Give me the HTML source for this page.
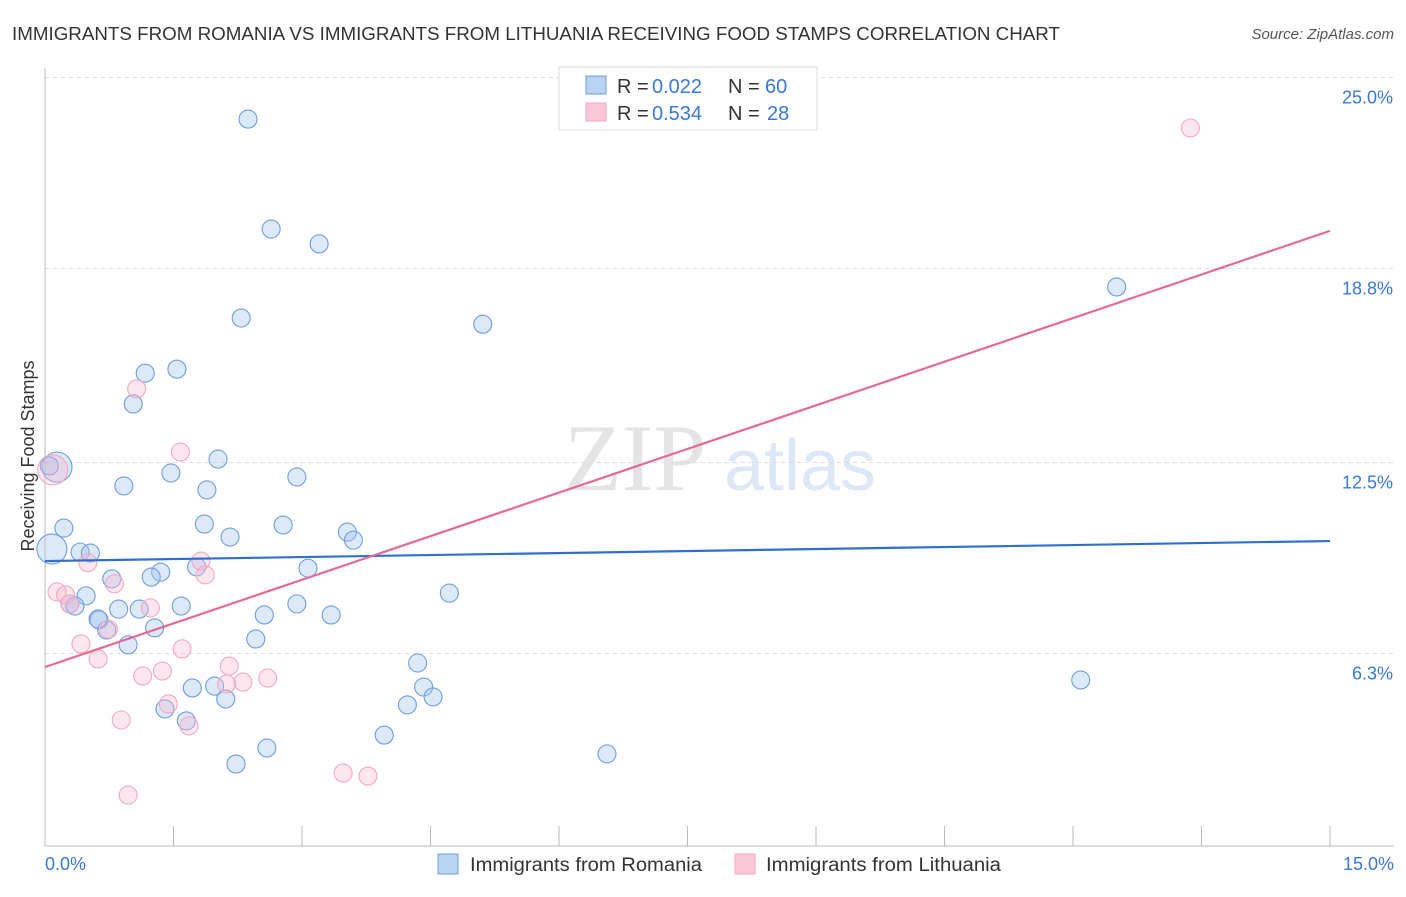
<!DOCTYPE html>
<html><head><meta charset="utf-8"><style>
body{margin:0;background:#fff;font-family:"Liberation Sans",sans-serif;}
</style></head><body>
<svg width="1406" height="892" viewBox="0 0 1406 892" xmlns="http://www.w3.org/2000/svg">
<text x="12" y="40" font-size="18.5" fill="#333" textLength="1048" lengthAdjust="spacingAndGlyphs">IMMIGRANTS FROM ROMANIA VS IMMIGRANTS FROM LITHUANIA RECEIVING FOOD STAMPS CORRELATION CHART</text>
<text x="1394" y="39" font-size="15" fill="#555" font-style="italic" text-anchor="end">Source: ZipAtlas.com</text>
<g><text x="635" y="490" font-size="95" font-family="Liberation Serif,serif" fill="#e4e4e4" text-anchor="middle">ZIP</text><text x="800" y="490" font-size="72" fill="#dce8f6" text-anchor="middle">atlas</text></g>
<g id="grid"></g><g id="axes"></g><g id="marks"></g>
<text transform="translate(34,456) rotate(-90)" font-size="18" fill="#333" text-anchor="middle">Receiving Food Stamps</text>
<g>
<rect x="559" y="67" width="258" height="63" fill="#fff" stroke="#ddd"/>
<rect x="586" y="76" width="20" height="18" fill="#b8d2f4" stroke="#6d9ee0"/>
<rect x="586" y="103" width="20" height="18" fill="#fcc8d8" stroke="#f0a6bd"/>
<text x="617" y="93" font-size="20" fill="#333">R =</text>
<text x="652" y="93" font-size="20" fill="#3a78d6">0.022</text>
<text x="728" y="93" font-size="20" fill="#333">N =</text>
<text x="765" y="93" font-size="20" fill="#3a78d6">60</text>
<text x="617" y="120" font-size="20" fill="#333">R =</text>
<text x="652" y="120" font-size="20" fill="#3a78d6">0.534</text>
<text x="728" y="120" font-size="20" fill="#333">N =</text>
<text x="767" y="120" font-size="20" fill="#3a78d6">28</text>
</g>
<g>
<rect x="438" y="854" width="20" height="20" fill="#b8d2f4" stroke="#6d9ee0"/>
<text x="470" y="871" font-size="19" fill="#333" textLength="232" lengthAdjust="spacingAndGlyphs">Immigrants from Romania</text>
<rect x="735" y="854" width="20" height="20" fill="#fcc8d8" stroke="#f0a6bd"/>
<text x="766" y="871" font-size="19" fill="#333" textLength="235" lengthAdjust="spacingAndGlyphs">Immigrants from Lithuania</text>
</g>
</svg>
<script>
const yTicks=[25,18.8,12.5,6.3];
const yTickLabels=["25.0%","18.8%","12.5%","6.3%"];
const xTickLabels=["0.0%","15.0%"];
const romaniaX=[2.37,2.64,3.20,2.29,5.11,12.51,1.17,1.54,1.03,2.02,0.14,1.47,2.94,0.92,1.89,0.22,1.86,2.78,2.16,3.53,3.60,0.08,0.41,0.53,3.07,1.35,1.24,1.77,0.78,0.48,0.29,0.35,1.10,0.86,1.59,2.94,4.72,0.63,2.56,3.34,0.72,1.28,0.97,2.46,4.35,12.09,1.98,1.72,4.42,4.53,2.11,1.40,4.23,1.65,3.96,2.59,2.23,6.56,0.05,0.62];
const romaniaY=[23.65,20.08,19.60,17.19,16.99,18.20,15.40,15.53,14.40,12.61,12.35,12.16,12.03,11.74,11.61,10.37,10.50,10.47,10.08,10.24,9.98,9.69,9.59,9.56,9.07,8.94,8.78,9.11,8.72,8.17,7.91,7.84,7.74,7.74,7.84,7.91,8.26,7.39,7.55,7.55,7.06,7.13,6.58,6.77,5.99,5.44,5.24,5.18,5.21,4.89,4.82,4.50,4.63,4.11,3.65,3.23,2.71,3.04,12.39,7.42];
const romaniaBig=[10,21];
const lithX=[13.37,1.07,1.58,0.09,0.50,1.82,1.87,0.81,0.14,0.24,1.23,0.74,0.42,1.60,0.62,2.15,1.37,1.14,2.60,2.31,2.12,1.44,1.68,0.89,3.48,3.77,0.97,0.29];
const lithY=[23.36,14.89,12.84,12.26,9.25,9.30,8.85,8.56,8.30,8.20,7.78,7.09,6.61,6.45,6.12,5.89,5.73,5.57,5.50,5.37,5.31,4.66,3.95,4.14,2.42,2.32,1.70,7.91];
const lithBig=[3];
const romaniaTrend=[9.30,9.95];
const lithTrend=[5.86,20.02];
const trendX=[0,15];

const X0=45,X1=1330,Y0=847.5,Y25=77.5;
const sx=v=>X0+(v/15)*(X1-X0);
const sy=v=>Y0-(v/25)*(Y0-Y25);
const NS="http://www.w3.org/2000/svg";
function mk(tag,attrs,parent){const e=document.createElementNS(NS,tag);for(const k in attrs)e.setAttribute(k,attrs[k]);parent.appendChild(e);return e;}
const grid=document.getElementById('grid'),axes=document.getElementById('axes'),marks=document.getElementById('marks');
yTicks.forEach((t,i)=>{
 const y=sy(t);
 const l=mk('line',{x1:45,x2:1394,y1:y,y2:y,stroke:'#ddd','stroke-dasharray':'4,4'},grid);
 
 
 const tx=mk('text',{x:1393,y:y+26,'font-size':18,fill:'#3a78d6','text-anchor':'end'},axes);
 tx.textContent=yTickLabels[i];
 
 
});
const ya=mk('line',{x1:45,x2:45,y1:68,y2:846,stroke:'#bbb'},axes);


const xa=mk('line',{x1:45,x2:1394,y1:846,y2:846,stroke:'#bbb'},axes);


for(let i=0;i<=10;i++){
 const x=sx(i*1.5);
 const t=mk('line',{x1:x,x2:x,y1:826,y2:846,stroke:'#bbb'},axes);
 
 
}
const xl0=mk('text',{x:45,y:870,'font-size':18,fill:'#3a78d6'},axes);xl0.textContent=xTickLabels[0];


const xl1=mk('text',{x:1394,y:870,'font-size':18,fill:'#3a78d6','text-anchor':'end'},axes);xl1.textContent=xTickLabels[1];



function pts(xs,ys,big,fill,stroke,name){
 xs.forEach((v,i)=>{
  const c=mk('circle',{cx:sx(v),cy:sy(ys[i]),r:big.includes(i)?15:9,fill:fill,stroke:stroke,'stroke-width':1.1},marks);
  
  
 });
}
pts(romaniaX,romaniaY,romaniaBig,'rgba(160,196,240,0.38)','#6f9de2','romania-point');
pts(lithX,lithY,lithBig,'rgba(248,182,202,0.35)','#f2a9bf','lithuania-point');
const t1=mk('line',{x1:sx(trendX[0]),x2:sx(trendX[1]),y1:sy(romaniaTrend[0]),y2:sy(romaniaTrend[1]),stroke:'#2f6fd0','stroke-width':2.2},marks);


const t2=mk('line',{x1:sx(trendX[0]),x2:sx(trendX[1]),y1:sy(lithTrend[0]),y2:sy(lithTrend[1]),stroke:'#e56a93','stroke-width':2.2},marks);


</script>
</body></html>
